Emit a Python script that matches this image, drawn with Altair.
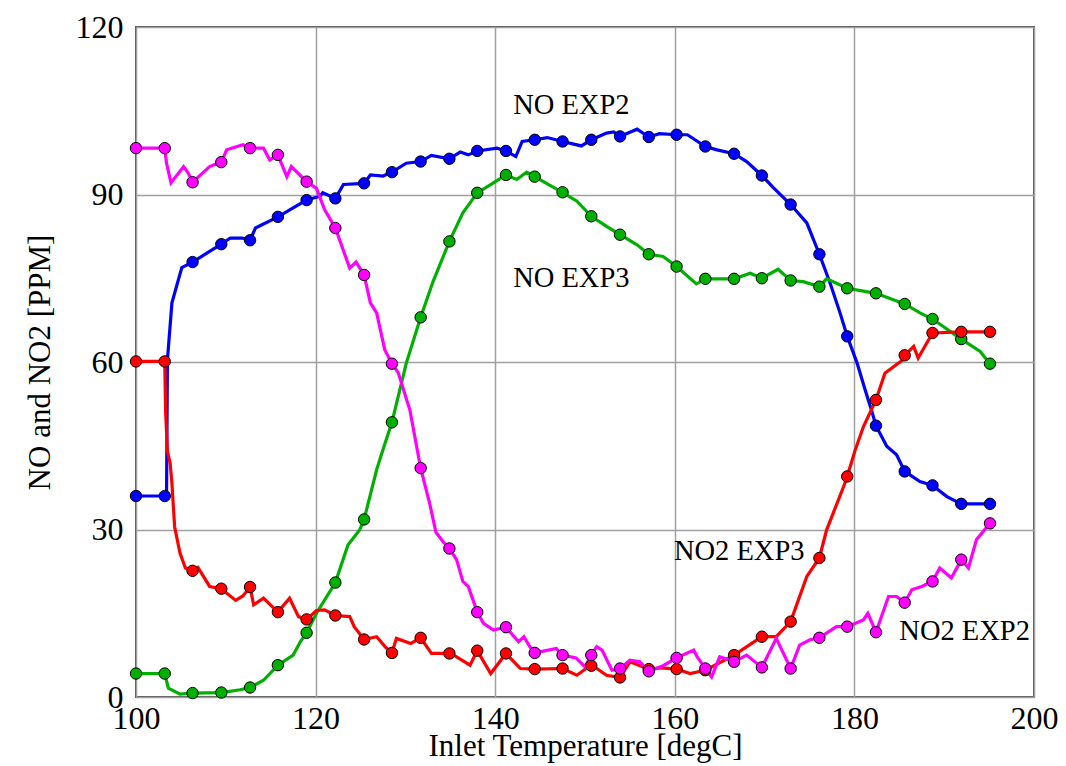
import altair as alt
import pandas as pd

# ---- marker temperatures (shared by the four series) ----
MARKER_T = [100.0, 103.2, 106.3, 109.5, 112.7, 115.8, 119.0, 122.2, 125.4, 128.5,
            131.7, 134.9, 138.0, 141.2, 144.4, 147.5, 150.7, 153.9, 157.1, 160.2,
            163.4, 166.6, 169.7, 172.9, 176.1, 179.2, 182.4, 185.6, 188.7, 191.9, 195.1]

NO_EXP2_MARK = [36.0, 36.0, 77.9, 81.1, 81.8, 86.0, 89.0, 89.3, 92.0, 94.0, 95.9, 96.4,
                97.8, 97.8, 99.8, 99.5, 99.8, 100.4, 100.3, 100.7, 98.6, 97.3, 93.4, 88.2,
                79.3, 64.6, 48.6, 40.4, 37.9, 34.6, 34.6]
NO_EXP3_MARK = [4.2, 4.2, 0.7, 0.8, 1.7, 5.7, 11.5, 20.5, 31.8, 49.2, 68.0, 81.6, 90.3,
                93.5, 93.2, 90.4, 86.1, 82.8, 79.3, 77.1, 74.9, 74.9, 75.0, 74.6, 73.5,
                73.2, 72.3, 70.4, 67.7, 64.1, 59.7]
NO2_EXP3_MARK = [60.1, 60.1, 22.6, 19.4, 19.7, 15.2, 13.9, 14.6, 10.3, 7.9, 10.6, 7.8,
                 8.3, 7.8, 5.0, 5.1, 5.6, 3.5, 5.0, 5.0, 4.8, 7.5, 10.8, 13.5, 24.9, 39.5,
                 53.2, 61.2, 65.2, 65.4, 65.4]
NO2_EXP2_MARK = [98.3, 98.3, 92.2, 95.8, 98.3, 97.1, 92.3, 84.0, 75.6, 59.7, 41.0, 26.6,
                 15.2, 12.5, 7.9, 7.5, 7.5, 5.1, 4.6, 7.0, 5.1, 6.3, 5.3, 5.1, 10.6, 12.6,
                 11.6, 16.9, 20.7, 24.6, 31.1]

# ---- continuous traces ----
NO_EXP2_X = [100, 103.2, 103.4, 103.5, 104.0, 105.1, 106.3, 108.2, 109.5, 110.5, 111.8,
             112.7, 113.3, 115.8, 117.5, 119.0, 120.5, 120.8, 122.2, 123.1, 125.4, 126.1,
             127.5, 128.5, 130.1, 131.7, 132.9, 134.9, 136.1, 137.0, 138.0, 140.2, 141.2,
             142.3, 143.0, 144.4, 145.8, 147.5, 149.6, 150.7, 152.4, 153.2, 153.9, 155.8,
             157.1, 158.3, 160.2, 161.4, 163.4, 164.7, 166.6, 168.0, 169.7, 171.0, 172.9,
             174.7, 176.1, 177.3, 178.4, 179.2, 180.3, 181.2, 181.9, 182.4, 183.6, 184.7,
             185.6, 187.3, 188.7, 190.3, 191.9, 195.1]
NO_EXP2_Y = [36.0, 36.0, 36.0, 60.4, 70.6, 76.9, 77.9, 79.8, 81.1, 82.2, 82.2, 81.8, 84.0,
             86.0, 87.6, 89.0, 89.7, 90.3, 89.3, 91.8, 92.0, 93.5, 93.3, 94.0, 95.6, 95.9,
             97.0, 96.4, 97.6, 97.1, 97.8, 98.3, 97.8, 96.8, 99.5, 99.8, 100.2, 99.5, 98.7,
             99.8, 101.0, 101.2, 100.4, 101.7, 100.3, 100.9, 100.7, 100.7, 98.6, 98.0, 97.3,
             95.9, 93.4, 91.2, 88.2, 84.9, 79.3, 74.1, 68.8, 64.6, 59.8, 55.0, 51.4, 48.6,
             44.9, 43.4, 40.4, 38.6, 37.9, 35.9, 34.6, 34.6]

NO_EXP3_X = [100, 103.2, 103.6, 104.9, 106.3, 109.5, 111.6, 112.7, 114.2, 115.8, 117.5,
             118.3, 119.0, 120.1, 122.2, 123.6, 124.9, 125.4, 126.8, 127.5, 128.5, 130.1,
             131.7, 133.1, 134.9, 136.4, 138.0, 139.8, 141.2, 142.4, 143.5, 144.4, 145.9,
             147.5, 149.1, 150.7, 152.4, 153.9, 155.8, 157.1, 158.7, 160.2, 162.4, 163.4,
             166.6, 168.4, 169.7, 171.5, 172.9, 174.3, 176.1, 176.9, 179.2, 182.4, 185.6,
             187.3, 188.7, 191.9, 194.0, 195.1]
NO_EXP3_Y = [4.2, 4.2, 1.6, 0.5, 0.7, 0.8, 1.3, 1.7, 3.0, 5.7, 7.5, 9.9, 11.5, 15.0, 20.5,
             27.2, 29.9, 31.8, 40.7, 44.3, 49.2, 59.8, 68.0, 74.5, 81.6, 86.7, 90.3, 92.1,
             93.5, 92.7, 94.0, 93.2, 91.8, 90.4, 88.8, 86.1, 84.3, 82.8, 81.0, 79.3, 78.9,
             77.1, 74.0, 74.9, 74.9, 75.9, 75.0, 76.6, 74.6, 74.4, 73.5, 74.9, 73.2, 72.3,
             70.4, 68.8, 67.7, 64.1, 61.9, 59.7]

NO2_EXP3_X = [100, 103.2, 103.3, 103.5, 103.8, 104.0, 104.3, 104.9, 105.5, 106.3, 106.9,
              108.2, 109.5, 111.1, 111.9, 112.7, 113.1, 114.2, 115.8, 117.1, 118.1, 119.0,
              120.1, 121.0, 122.2, 123.8, 124.3, 125.4, 126.8, 127.8, 128.5, 129.0, 130.6,
              131.7, 132.9, 134.9, 135.7, 137.2, 138.0, 139.5, 141.2, 142.8, 144.4, 147.5,
              149.1, 150.7, 152.4, 153.9, 155.0, 157.1, 158.5, 160.2, 161.7, 163.4, 166.6,
              169.7, 171.3, 172.9, 174.7, 176.1, 176.9, 178.8, 179.2, 180.1, 181.0, 182.4,
              183.4, 185.4, 185.6, 186.6, 187.1, 188.7, 191.9, 195.1]
NO2_EXP3_Y = [60.1, 60.1, 51.0, 44.0, 41.9, 38.3, 30.5, 25.8, 23.1, 22.6, 23.2, 19.8, 19.4,
              17.3, 18.1, 19.7, 16.5, 17.7, 15.2, 17.7, 14.4, 13.9, 15.5, 15.6, 14.6, 14.4,
              12.6, 10.3, 10.8, 8.9, 7.9, 10.5, 9.6, 10.6, 7.8, 7.8, 7.2, 5.7, 8.3, 4.2, 7.8,
              5.1, 5.0, 5.1, 3.9, 5.8, 3.9, 3.5, 6.3, 5.0, 5.2, 5.0, 4.2, 4.8, 7.5, 10.8,
              10.8, 13.5, 21.6, 24.9, 29.9, 37.7, 39.5, 44.3, 48.4, 53.2, 58.0, 60.4, 61.2,
              62.8, 60.7, 65.2, 65.4, 65.4]

NO2_EXP2_X = [100, 103.2, 103.4, 103.9, 105.3, 105.8, 106.3, 108.2, 109.5, 110.1, 111.9,
              112.7, 114.2, 114.9, 115.8, 116.8, 117.3, 119.0, 120.1, 121.0, 122.2, 123.8,
              124.5, 125.4, 126.1, 126.8, 127.7, 128.5, 129.2, 130.5, 131.7, 132.7, 133.4,
              134.2, 134.9, 135.7, 136.4, 137.0, 138.0, 138.7, 139.8, 141.2, 142.6, 143.2,
              143.9, 144.4, 146.8, 147.5, 149.0, 150.0, 150.7, 151.3, 151.9, 153.0, 153.9,
              155.0, 156.1, 157.1, 158.7, 160.2, 162.1, 162.5, 163.4, 164.1, 165.0, 166.6,
              168.0, 169.7, 171.3, 172.9, 173.9, 175.0, 176.1, 178.0, 179.2, 181.0, 181.5,
              182.4, 183.8, 184.7, 185.6, 186.4, 187.5, 188.7, 189.5, 190.8, 191.9, 192.7,
              193.6, 195.1]
NO2_EXP2_Y = [98.3, 98.3, 95.6, 92.1, 95.0, 93.9, 92.2, 95.0, 95.8, 98.0, 98.9, 98.3, 98.3,
              96.2, 97.1, 93.2, 95.0, 92.3, 91.1, 87.3, 84.0, 76.8, 77.9, 75.6, 70.6, 68.8,
              62.2, 59.7, 58.1, 51.4, 41.0, 34.7, 29.5, 27.8, 26.6, 24.6, 20.7, 19.8, 15.2,
              13.2, 12.0, 12.5, 9.9, 10.8, 8.9, 7.9, 8.7, 7.5, 7.0, 5.4, 7.5, 9.0, 8.4, 4.8,
              5.1, 6.6, 6.3, 4.6, 5.6, 7.0, 8.4, 7.2, 5.1, 3.6, 7.2, 6.3, 7.5, 5.3, 10.5, 5.1,
              9.3, 10.2, 10.6, 12.6, 12.6, 13.8, 15.0, 11.6, 18.0, 18.0, 16.9, 19.2, 19.8,
              20.7, 23.1, 21.3, 24.6, 23.1, 28.2, 31.1]

SERIES = ["NO EXP2", "NO EXP3", "NO2 EXP3", "NO2 EXP2"]
COLORS = ["#0000ff", "#00b000", "#ff0000", "#ff00ff"]

LABEL_TEXT = ["NO EXP2", "NO EXP3", "NO2 EXP3", "NO2 EXP2"]
LABEL_T = [142.0, 142.0, 159.9, 185.0]
LABEL_PPM = [106.0, 75.0, 26.2, 11.8]

# ---- tables ----
traces = [(SERIES[0], NO_EXP2_X, NO_EXP2_Y), (SERIES[1], NO_EXP3_X, NO_EXP3_Y),
          (SERIES[2], NO2_EXP3_X, NO2_EXP3_Y), (SERIES[3], NO2_EXP2_X, NO2_EXP2_Y)]
rows = []
for name, xs, ys in traces:
    for k, (xv, yv) in enumerate(zip(xs, ys)):
        rows.append({"series": name, "t": xv, "ppm": yv, "k": k})
line_df = pd.DataFrame(rows)

marks = [NO_EXP2_MARK, NO_EXP3_MARK, NO2_EXP3_MARK, NO2_EXP2_MARK]
mrows = []
for name, ys in zip(SERIES, marks):
    for xv, yv in zip(MARKER_T, ys):
        mrows.append({"series": name, "t": xv, "ppm": yv})
mark_df = pd.DataFrame(mrows)

label_df = pd.DataFrame({"t": LABEL_T, "ppm": LABEL_PPM, "txt": LABEL_TEXT})

FONT = "Liberation Serif"
xenc = alt.X("t:Q", title="Inlet Temperature [degC]",
             scale=alt.Scale(domain=[100, 200], nice=False, zero=False),
             axis=alt.Axis(values=[100, 120, 140, 160, 180, 200], grid=True, ticks=False,
                           domain=False, labelFlush=False, labelOverlap=False,
                           labelPadding=6, titlePadding=-3))
yenc = alt.Y("ppm:Q", title="NO and NO2 [PPM]",
             scale=alt.Scale(domain=[0, 120], nice=False),
             axis=alt.Axis(values=[0, 30, 60, 90, 120], grid=True, ticks=False,
                           domain=False, labelFlush=False, labelOverlap=False,
                           labelPadding=13, titlePadding=19))
color = alt.Color("series:N", scale=alt.Scale(domain=SERIES, range=COLORS), legend=None)

lines = alt.Chart(line_df).mark_line(strokeWidth=3.2, clip=True).encode(
    x=xenc, y=yenc, color=color, detail="series:N", order="k:Q")
points = alt.Chart(mark_df).mark_point(shape="circle", filled=True, size=130, opacity=1,
                                       stroke="black", strokeWidth=1).encode(
    x="t:Q", y="ppm:Q", color=color)
texts = alt.Chart(label_df).mark_text(align="left", baseline="middle", font=FONT,
                                      fontSize=28.5, color="black").encode(
    x="t:Q", y="ppm:Q", text="txt:N")

chart = alt.layer(lines, points, texts).properties(
    width=898, height=670,
    autosize=alt.AutoSizeParams(type="none"),
    padding={"left": 128, "top": 19, "right": 24, "bottom": 67},
    background="white",
).configure_view(stroke="#555555", strokeWidth=2).configure_axis(
    gridColor="#a0a0a0", gridWidth=1.5, gridOpacity=1,
    labelFont=FONT, labelFontSize=32, labelColor="black",
    titleFont=FONT, titleFontSize=31, titleFontWeight="normal", titleColor="black")

chart.save("out.html", embed_options={"renderer": "svg", "actions": False})
